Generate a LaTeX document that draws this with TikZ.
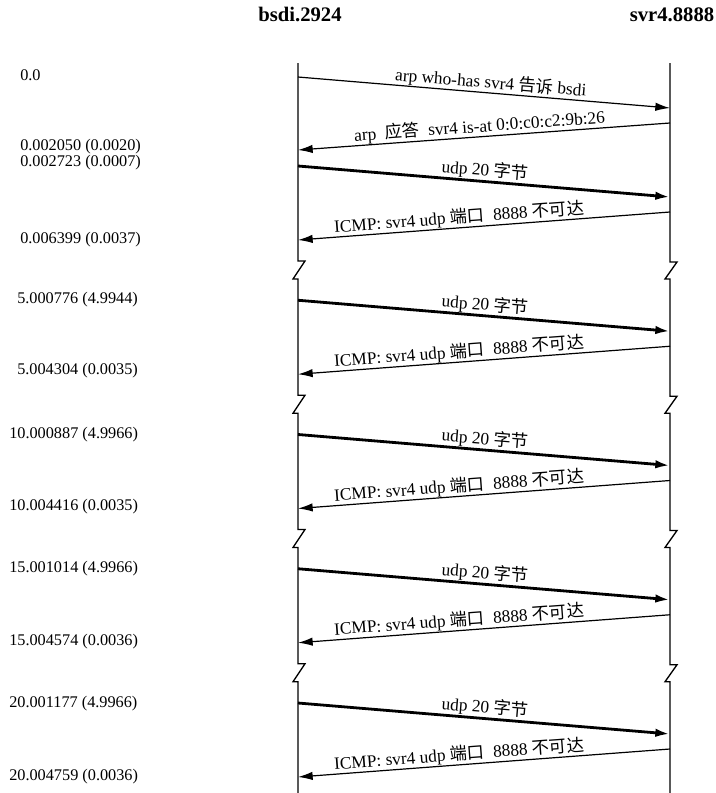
\documentclass[tikz,border=0pt]{standalone}
\usepackage{fontspec}
\setmainfont{Liberation Serif}
\newfontfamily\cjk{Noto Sans CJK SC}
\usetikzlibrary{arrows.meta}
\begin{document}
\begin{tikzpicture}[x=0.75pt,y=-0.75pt,
  lifeline/.style={line width=1pt},
  thinmsg/.style={line width=0.9pt,-{Latex[length=11pt,width=6.3pt]}},
  thickmsg/.style={line width=2.1pt,-{Latex[length=11pt,width=6.3pt]}},
  lbl/.style={sloped,above,inner sep=0.3pt,font=\fontsize{13}{15}\selectfont},
  tlbl/.style={anchor=west,inner sep=0pt,font=\fontsize{12.2}{14}\selectfont},
  hdr/.style={anchor=base,inner sep=0pt,font=\fontsize{15.5}{18}\selectfont\bfseries}]
\fill[white] (0,0) rectangle (716,793);
\useasboundingbox (0,0) rectangle (716,793);

% headers
\node[hdr] (hL) at (300,21.5) {bsdi.2924};
\node[hdr] (hR) at (672,21.5) {svr4.8888};

% lifelines with break marks
\draw[lifeline] (298,63)
  \foreach \k in {0,...,3}{ -- (298,{261+134.25*\k}) -- (305,{261+134.25*\k}) -- (293,{279+134.25*\k}) -- (298,{279+134.25*\k}) }
  -- (298,793);
\draw[lifeline] (670,63)
  \foreach \k in {0,...,3}{ -- (670,{262+134.25*\k}) -- (677,{262+134.25*\k}) -- (665,{279+134.25*\k}) -- (670,{279+134.25*\k}) }
  -- (670,793);

% ARP exchange
\coordinate (a1s) at (298,77);
\coordinate (a1e) at (670,108);
\coordinate (a2s) at (670,123);
\coordinate (a2e) at (298,150);
\draw[thinmsg] (a1s) -- node[lbl,pos=0.516] (la1) {arp who-has svr4 {\cjk 告诉} bsdi} (a1e);
\draw[thinmsg] (a2s) -- node[lbl,pos=0.51] (la2) {arp\ \ {\cjk 应答}\ \ svr4 is-at 0:0:c0:c2:9b:26} (a2e);

% UDP / ICMP groups
\foreach \k in {0,...,4}{
  \pgfmathsetmacro{\ys}{166+134.25*\k}
  \coordinate (us\k) at (298,\ys);
  \coordinate (ue\k) at (670,\ys+31);
  \coordinate (is\k) at (670,\ys+46);
  \coordinate (ie\k) at (298,\ys+74);
  \draw[thickmsg] (us\k) -- node[lbl,pos=0.5] (lu\k) {udp 20 {\cjk 字节}} (ue\k);
  \draw[thinmsg] (is\k) -- node[lbl,pos=0.565] (li\k) {ICMP: svr4 udp {\cjk 端口}\ \ 8888 {\cjk 不可达}} (ie\k);
}

% time labels
\node[tlbl] (t0) at (20,75) {0.0};
\node[tlbl] (t1) at (20,146.5) {0.002050 (0.0020)};
\node[tlbl] (t2) at (20,162.5) {0.002723 (0.0007)};
\node[tlbl] (t3) at (20,240) {0.006399 (0.0037)};
\node[tlbl] (t4) at (17,300) {5.000776 (4.9944)};
\node[tlbl] (t5) at (17,371) {5.004304 (0.0035)};
\node[tlbl] (t6) at (9,435) {10.000887 (4.9966)};
\node[tlbl] (t7) at (9,507) {10.004416 (0.0035)};
\node[tlbl] (t8) at (9,569) {15.001014 (4.9966)};
\node[tlbl] (t9) at (9,642) {15.004574 (0.0036)};
\node[tlbl] (t10) at (9,704) {20.001177 (4.9966)};
\node[tlbl] (t11) at (9,777) {20.004759 (0.0036)};
\end{tikzpicture}
\end{document}
